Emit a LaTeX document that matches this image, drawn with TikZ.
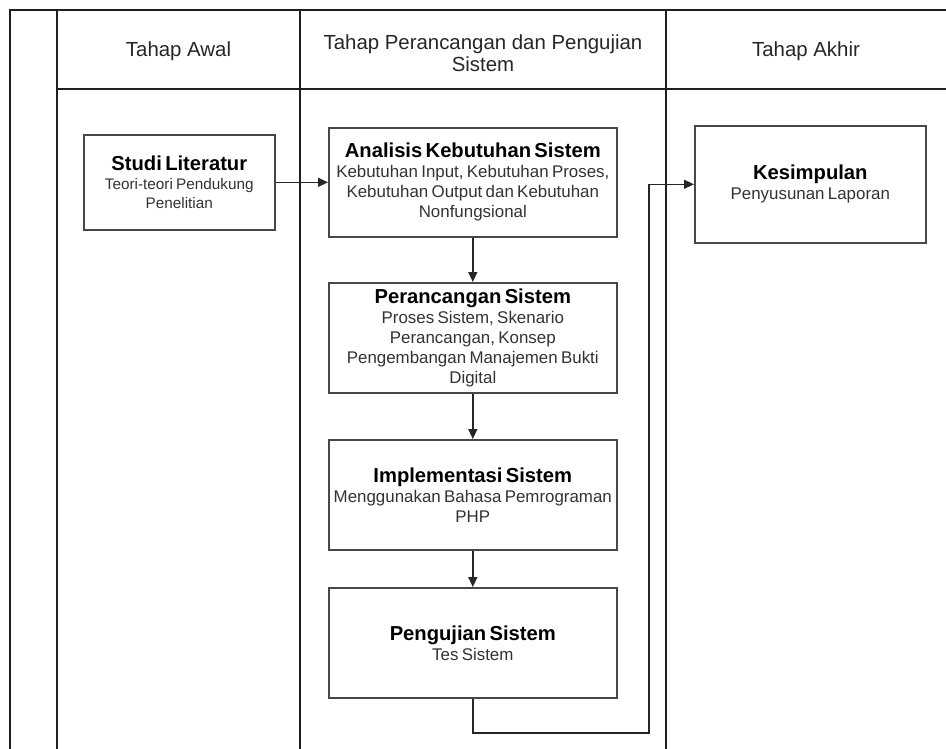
\documentclass[tikz,border=0pt]{standalone}
\usepackage{fontspec}
\setmainfont{Liberation Sans}[BoldFeatures={WordSpace=1.4}]
\usetikzlibrary{arrows.meta}
\newcommand\bxtitle[1]{{\fontsize{20.2}{22}\selectfont\bfseries\color{black}#1\par}}
\newcommand\bxsub[1]{{\fontsize{16.9}{20}\selectfont\color{black!80}#1\par}}
\begin{document}
\begin{tikzpicture}[x=1pt,y=-1pt,
  frame/.style={line width=1.8pt, draw=black!88},
  box/.style={draw=black!72, line width=1.6pt, fill=white, inner sep=0pt, anchor=north west},
  conn/.style={draw=black!85, line width=1.4pt},
  arr/.style={conn, -{Triangle[length=10pt,width=9pt]}},
  txt/.style={text width=320pt, align=center, inner sep=0pt},
  hdr/.style={align=center, inner sep=0pt, font=\fontsize{20.4}{22}\selectfont, text=black!85},
]
\useasboundingbox (0,0) rectangle (946,749);
% frame
\draw[frame] (10,749) -- (10,10) -- (946,10);
\draw[frame] (57,10) -- (57,749);
\draw[frame] (300,10) -- (300,749);
\draw[frame] (666,10) -- (666,749);
\draw[frame] (57,89) -- (946,89);
% headers
\node[hdr] (h1) at (178.5,51) {Tahap Awal};
\node[hdr] (h2) at (483,53) {Tahap Perancangan dan Pengujian\\Sistem};
\node[hdr] (h3) at (806,51) {Tahap Akhir};
% boxes
\node[box, minimum width=191pt, minimum height=95pt] (stu) at (83,134) {};
\node[box, minimum width=288pt, minimum height=109pt] (ana) at (328,127) {};
\node[box, minimum width=288pt, minimum height=110pt] (per) at (328,282) {};
\node[box, minimum width=288pt, minimum height=110pt] (imp) at (328,439) {};
\node[box, minimum width=288pt, minimum height=110pt] (uji) at (328,587) {};
\node[box, minimum width=231pt, minimum height=117pt] (kes) at (694,125) {};
% texts
\node[txt] (stuT) at (stu.center) {\bxtitle{Studi Literatur}{\fontsize{15.3}{19}\selectfont\color{black!80}Teori-teori Pendukung\\Penelitian\par}};
\node[txt] (anaT) at (ana.center) {\bxtitle{Analisis Kebutuhan Sistem}\bxsub{Kebutuhan Input, Kebutuhan Proses,\\Kebutuhan Output dan Kebutuhan\\Nonfungsional}};
\node[txt] (perT) at (per.center) {\bxtitle{Perancangan Sistem}\bxsub{Proses Sistem, Skenario\\Perancangan, Konsep\\Pengembangan Manajemen Bukti\\Digital}};
\node[txt] (impT) at (imp.center) {\bxtitle{Implementasi Sistem}\bxsub{Menggunakan Bahasa Pemrograman\\PHP}};
\node[txt] (ujiT) at (uji.center) {\bxtitle{Pengujian Sistem}\bxsub{Tes Sistem}};
\node[txt] (kesT) at (kes.center) {\bxtitle{Kesimpulan}\bxsub{Penyusunan Laporan}};
% connectors
\coordinate (turn) at (649,733);
\draw[arr] (stu.east) -- (ana.west);
\draw[arr] (ana.south) -- (per.north);
\draw[arr] (per.south) -- (imp.north);
\draw[arr] (imp.south) -- (uji.north);
\draw[arr] (uji.south) |- (turn) |- (kes.west);
\end{tikzpicture}
\end{document}
